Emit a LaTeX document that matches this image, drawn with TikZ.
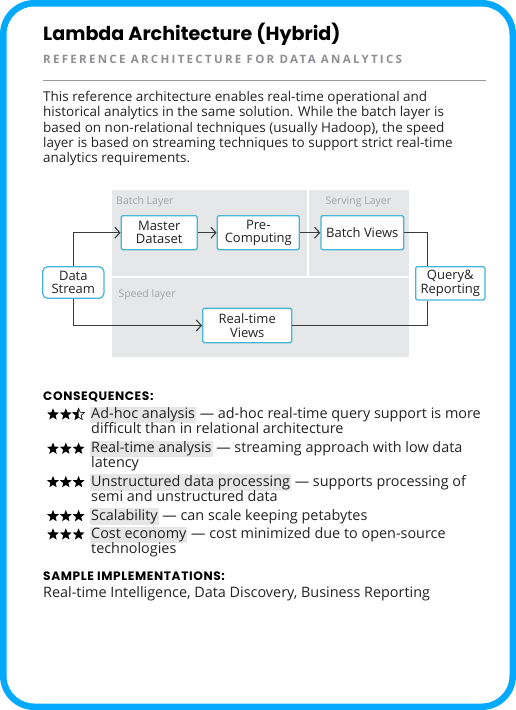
\documentclass[tikz,border=0pt]{standalone}
\usepackage{fontspec}
\setmainfont{Open Sans}
\newfontfamily\headfont{Poppins}
\newfontfamily\capsfont[LetterSpace=5]{Poppins}
\newfontfamily\subfont[LetterSpace=20]{Open Sans}
\usetikzlibrary{arrows.meta,shapes.geometric}

\definecolor{frameblue}{HTML}{03A9FC}
\definecolor{boxcyan}{HTML}{45B6D6}
\definecolor{layergray}{HTML}{E6E7E8}
\definecolor{labelgray}{HTML}{A3A3A6}
\definecolor{subgray}{HTML}{8E8E95}
\definecolor{rulegray}{HTML}{9A9A9E}
\definecolor{linegray}{HTML}{3B3B3B}
\definecolor{hlgray}{HTML}{E6E6E6}
\definecolor{textdark}{HTML}{222222}

\newcommand\hlterm[1]{{\fboxsep=1pt\colorbox{hlgray}{#1}}}

\begin{document}
\begin{tikzpicture}[x=1pt,y=-1pt,
	box/.style={draw=boxcyan,line width=1.3,fill=white,align=center,inner sep=0,
		rounded corners=1.5,text=textdark,font=\fontsize{13}{13.3}\selectfont},
	layerlabel/.style={text=labelgray,inner sep=0,anchor=base west,font=\fontsize{10.5}{12}\selectfont},
	conn/.style={linegray,line width=1.1},
	txt/.style={anchor=base west,inner sep=0,text=textdark,font=\fontsize{13.5}{15}\selectfont},
	item/.style={txt,font=\fontsize{14.4}{15}\selectfont},
	head/.style={anchor=base west,inner sep=0,font=\capsfont\bfseries\fontsize{12.2}{13}\selectfont},
	starmark/.style={star,star points=5,star point ratio=2.3,fill=black,inner sep=0,minimum size=12.5}]
	\useasboundingbox (0,0) rectangle (516,710);
	\draw[frameblue,line width=6.5,rounded corners=31] (3.25,3.25) rectangle (512.75,706.75);

	% heading
	\node[anchor=base west,inner sep=0,font=\headfont\bfseries\fontsize{19.1}{24}\selectfont] (title) at (43,40.7) {Lambda Architecture (Hybrid)};
	\node[anchor=base west,inner sep=0,text=subgray,font=\subfont\bfseries\fontsize{11.5}{13}\selectfont] (subtitle) at (43,63.3) {REFERENCE ARCHITECTURE FOR DATA ANALYTICS};
	\draw[rulegray,line width=1] (43,80) -- (485.7,80);
	\foreach \ln [count=\i] in {This reference architecture enables real-time operational and,
		{historical analytics in the same solution. While the batch layer is},
		{based on non-relational techniques (usually Hadoop), the speed},
		layer is based on streaming techniques to support strict real-time,
		analytics requirements.}
		\node[txt] (intro\i) at (43,101.7+15.15*\i-15.15) {\ln};

	% layers
	\fill[layergray] (111.7,190) rectangle (306.7,275.7);
	\fill[layergray] (309.3,190) rectangle (408.7,275.7);
	\fill[layergray] (111.7,277.7) rectangle (408.7,356.7);
	\node[layerlabel] (batchlbl) at (116,204) {Batch Layer};
	\node[layerlabel,anchor=base] (servlbl) at (358.3,204) {Serving Layer};
	\node[layerlabel] (speedlbl) at (118.3,297.5) {Speed layer};

	% boxes
	\node[box,minimum width=76,minimum height=34] (md) at (159.2,232.7) {Master\\Dataset};
	\node[box,minimum width=82,minimum height=34] (pc) at (258.3,232.7) {Pre-\\Computing};
	\node[box,minimum width=82.7,minimum height=34] (bv) at (362.3,232.7) {Batch Views};
	\node[box,rounded corners=5,minimum width=61.3,minimum height=31.6] (ds) at (73.3,282.5) {Data\\Stream};
	\node[box,minimum width=69.3,minimum height=33.3] (qr) at (450.3,283.3) {Query\&\\Reporting};
	\node[box,minimum width=89,minimum height=34.3] (rv) at (247.2,325.5) {Real-time\\Views};

	% connectors
	\draw[conn,-{Straight Barb[length=5pt,width=11pt]}] (ds.north) |- (md.west);
	\draw[conn,-{Straight Barb[length=5pt,width=11pt]}] (ds.south) |- (rv.west);
	\draw[conn,-{Straight Barb[length=5pt,width=11pt]}] (md) -- (pc);
	\draw[conn,-{Straight Barb[length=5pt,width=11pt]}] (pc) -- (bv);
	\draw[conn] (bv.east) -| ([xshift=-22.6pt]qr.north);
	\draw[conn] (rv.east) -| ([xshift=-22.6pt]qr.south);

	% consequences
	\node[head] (conshead) at (43,400.7) {CONSEQUENCES:};
	\node[starmark] (s11) at (53,414.5) {};
	\node[starmark] (s12) at (65.8,414.5) {};
	\node[starmark,fill=none,draw,line width=0.6] (s13) at (78.6,414.5) {};
	\begin{scope}
		\clip (72,407) rectangle (78.6,422);
		\node[starmark] at (78.6,414.5) {};
	\end{scope}
	\foreach \sy [count=\r from 2] in {448.8,482.2,516.2,534.5}
		\foreach \sx [count=\c] in {53,65.8,78.6}
			\node[starmark] (s\r\c) at (\sx,\sy) {};
	\node[item] (c1a) at (90,418.5) {\hlterm{Ad-hoc analysis} — ad-hoc real-time query support is more};
	\node[item] (c1b) at (91,433.5) {difficult than in relational architecture};
	\node[item] (c2a) at (90,452.8) {\hlterm{Real-time analysis} — streaming approach with low data};
	\node[item] (c2b) at (91,467.5) {latency};
	\node[item] (c3a) at (90,486.2) {\hlterm{Unstructured data processing} — supports processing of};
	\node[item] (c3b) at (91,501.8) {semi and unstructured data};
	\node[item] (c4a) at (90,520.2) {\hlterm{Scalability} — can scale keeping petabytes};
	\node[item] (c5a) at (90,538.5) {\hlterm{Cost economy} — cost minimized due to open-source};
	\node[item] (c5b) at (91,553.5) {technologies};

	% implementations
	\node[head] (implhead) at (43,580.3) {SAMPLE IMPLEMENTATIONS:};
	\node[item] (impl) at (43,597) {Real-time Intelligence, Data Discovery, Business Reporting};
\end{tikzpicture}
\end{document}
